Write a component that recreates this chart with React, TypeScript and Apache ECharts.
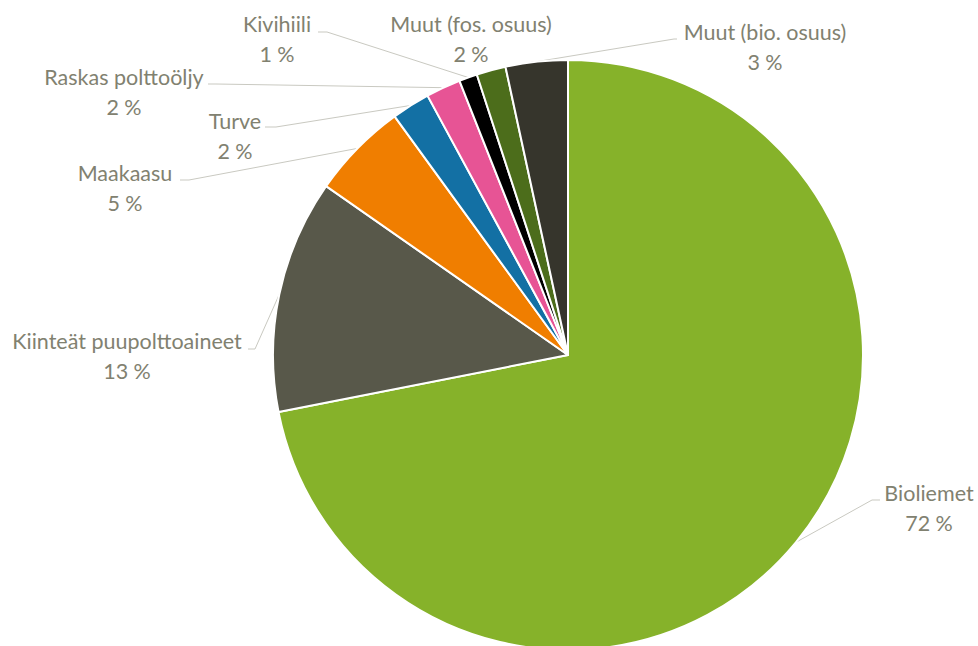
import React, { useEffect, useRef } from "react";
import * as echarts from "echarts";

const categories = [
  "Bioliemet",
  "Kiinteät puupolttoaineet",
  "Maakaasu",
  "Turve",
  "Raskas polttoöljy",
  "Kivihiili",
  "Muut (fos. osuus)",
  "Muut (bio. osuus)",
];
const shares = [71.9, 12.8, 5.3, 2.1, 1.9, 1.0, 1.6, 3.4];
const colors = ["#86B22A", "#58584A", "#F07E00", "#1370A4", "#E75495", "#000000", "#4C6D1B", "#36352C"];

// label layout: [textCenterX, textCenterY, lineEndX, lineY, bendX]
const labelPos: number[][] = [
  [929, 508, 880, 500, 872],
  [127, 356, 248, 349, 255],
  [125, 188, 180, 180, 189],
  [235, 136, 265, 127, 276],
  [124, 92, 208, 84, 216],
  [277, 39, 318, 32, 327],
  [471, 39, 0, 0, 0],
  [765, 47, 677, 39, 674],
];

export default function App() {
  const ref = useRef<HTMLDivElement>(null);
  useEffect(() => {
    const chart = echarts.init(ref.current!, undefined, { renderer: "svg" });
    chart.setOption({
      animation: false,
      backgroundColor: "#ffffff",
      series: [
        {
          type: "pie",
          center: [568, 355],
          radius: 295,
          startAngle: 90,
          clockwise: true,
          avoidLabelOverlap: false,
          emphasis: { disabled: true },
          itemStyle: { borderColor: "#ffffff", borderWidth: 2 },
          label: {
            show: true,
            position: "outside",
            formatter: (p: any) => `${p.name}\n${Math.round(p.percent)} %`,
            fontFamily: "Lato, 'Open Sans', sans-serif",
            fontSize: 21.5,
            lineHeight: 30,
            color: "#818170",
            align: "center",
          },
          labelLine: {
            show: true,
            length: 10,
            length2: 10,
            lineStyle: { color: "#C9C9C1", width: 1 },
          },
          labelLayout: (params: any) => {
            const i = params.dataIndex;
            const lp = labelPos[i];
            const res: any = { x: lp[0], y: lp[1], align: "center", verticalAlign: "middle" };
            if (params.labelLinePoints && lp[2] > 0) {
              const start = params.labelLinePoints[0];
              res.labelLinePoints = [start, [lp[4], lp[3]], [lp[2], lp[3]]];
            }
            return res;
          },
          data: categories.map((name, i) => ({
            name,
            value: shares[i],
            itemStyle: { color: colors[i] },
            labelLine: i === 6 ? { show: false } : undefined,
          })),
        },
      ],
    });
    return () => chart.dispose();
  }, []);
  return (
    <div
      ref={ref}
      style={{ position: "fixed", left: 0, top: 0, width: 978, height: 646 }}
    />
  );
}
